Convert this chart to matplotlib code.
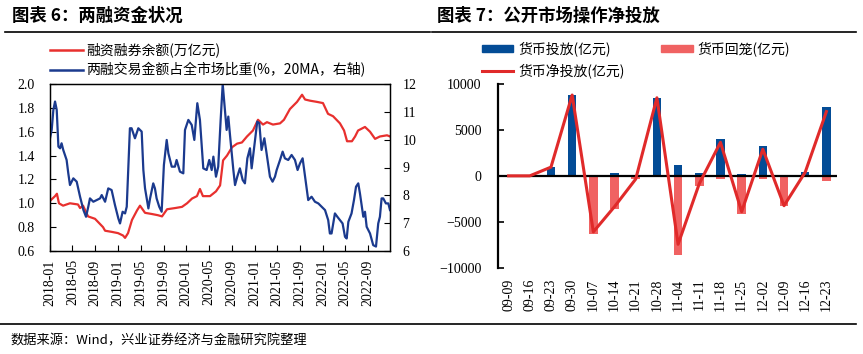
import numpy as np
import pandas as pd
import matplotlib
matplotlib.use("Agg")
import matplotlib.pyplot as plt
from matplotlib.lines import Line2D
from matplotlib.patches import Rectangle

# ---- left chart: margin trading (days since 2018-01-01 -> value)
red_days = [0, 27, 37, 48, 70, 107, 150, 161, 177, 204, 241, 284, 295, 332, 364, 391, 402,
            418, 439, 466, 482, 509, 546, 578, 600, 627, 670, 707, 734, 761, 787, 803, 819,
            857, 889, 911, 927, 948, 975, 1002, 1028, 1055, 1087, 1114, 1141, 1162, 1194,
            1232, 1253, 1285, 1323, 1350, 1366, 1393, 1430, 1462, 1489, 1516, 1553, 1575,
            1591, 1617, 1634, 1650, 1687, 1714, 1741, 1767, 1805, 1821]
red_vals = [1.02, 1.06, 1.08, 1.00, 0.98, 1.00, 0.99, 0.96, 0.98, 0.89, 0.87, 0.80, 0.77,
            0.76, 0.75, 0.73, 0.71, 0.75, 0.86, 0.94, 0.98, 0.92, 0.91, 0.90, 0.89, 0.95,
            0.96, 0.97, 1.00, 1.04, 1.06, 1.12, 1.06, 1.06, 1.10, 1.15, 1.36, 1.40, 1.47,
            1.50, 1.51, 1.56, 1.61, 1.70, 1.66, 1.68, 1.66, 1.67, 1.70, 1.79, 1.85, 1.91,
            1.87, 1.86, 1.85, 1.84, 1.75, 1.73, 1.67, 1.61, 1.52, 1.52, 1.56, 1.61, 1.64,
            1.60, 1.54, 1.56, 1.57, 1.56]

blue_days = [0, 9, 18, 27, 36, 45, 54, 62, 71, 89, 98, 107, 125, 143, 161, 179, 193, 205,
             214, 232, 250, 268, 277, 295, 312, 330, 348, 366, 375, 389, 402, 411, 428, 437,
             455, 473, 491, 500, 509, 527, 536, 553, 562, 571, 585, 598, 610, 625, 634, 652,
             669, 678, 696, 714, 723, 741, 759, 773, 789, 803, 821, 839, 853, 866, 875, 889,
             901, 914, 925, 937, 946, 955, 964, 982, 991, 1003, 1017, 1032, 1044, 1057, 1071,
             1080, 1098, 1110, 1121, 1133, 1148, 1160, 1178, 1192, 1205, 1214, 1232, 1246,
             1258, 1276, 1294, 1312, 1326, 1339, 1353, 1366, 1383, 1401, 1419, 1437, 1455,
             1473, 1490, 1499, 1508, 1517, 1526, 1539, 1553, 1567, 1580, 1589, 1598, 1615,
             1628, 1639, 1651, 1660, 1678, 1687, 1696, 1714, 1731, 1746, 1758, 1767, 1776,
             1785, 1799, 1812, 1821]
blue_vals = [10.05, 10.35, 11.07, 11.37, 11.07, 9.75, 9.69, 9.87, 9.63, 9.27, 8.79, 8.37,
             8.61, 8.49, 7.95, 7.47, 7.23, 7.59, 7.89, 7.77, 7.83, 7.89, 8.01, 7.77, 8.25,
             8.19, 7.65, 7.17, 6.99, 7.41, 7.35, 7.59, 10.41, 10.41, 10.05, 10.41, 10.29,
             8.91, 8.25, 7.53, 7.89, 8.43, 8.25, 7.89, 7.59, 7.41, 9.09, 9.99, 9.51, 9.03,
             9.03, 9.27, 8.85, 8.79, 10.35, 10.71, 10.53, 9.99, 11.31, 10.71, 8.97, 8.91,
             9.27, 8.91, 9.39, 8.67, 9.03, 10.71, 12.0, 11.07, 10.35, 10.83, 10.17, 8.91,
             8.37, 8.67, 8.97, 8.55, 8.43, 9.33, 9.69, 8.97, 9.99, 10.65, 10.59, 9.63, 10.05,
             9.51, 8.67, 8.49, 8.67, 8.91, 9.27, 9.57, 9.33, 9.27, 9.45, 9.27, 8.91, 9.15,
             9.33, 8.67, 7.83, 7.95, 7.77, 7.71, 7.59, 7.47, 7.11, 6.63, 6.63, 6.99, 7.35,
             7.23, 7.11, 6.99, 6.51, 6.45, 7.05, 7.35, 7.83, 8.31, 8.43, 8.07, 7.23, 7.41,
             6.87, 6.63, 6.21, 6.16, 6.99, 7.23, 7.89, 7.89, 7.71, 7.71, 7.47]

date_ticks = ["2018-01", "2018-05", "2018-09", "2019-01", "2019-05", "2019-09", "2020-01",
              "2020-05", "2020-09", "2021-01", "2021-05", "2021-09", "2022-01", "2022-05",
              "2022-09"]

# ---- right chart: open market operations (亿元)
weeks = ["09-09", "09-16", "09-23", "09-30", "10-07", "10-14", "10-21", "10-28",
         "11-04", "11-11", "11-18", "11-25", "12-02", "12-09", "12-16", "12-23"]
injection = [0, 0, 950, 8800, 0, 300, 0, 8500, 1200, 300, 4000, 200, 3250, 0, 400, 7500]
withdrawal = [0, 0, 0, 0, -6300, -3650, -350, 0, -8650, -1150, -350, -4100, -350, -3250, 0, -600]
net_injection = [0, 0, 950, 8800, -6100, -3350, -350, 8500, -7450, -850, 3650, -3900, 2900,
                 -3250, 400, 7000]

W, H = 863, 354
CJK = ["Noto Sans CJK SC", "DejaVu Sans"]
SERIF = "Liberation Serif"


def fx(x):
    return x / W


def fy(y):
    return 1 - y / H


fig = plt.figure(figsize=(W / 100, H / 100), dpi=100)
fig.patch.set_facecolor("white")

# frame lines and titles
for x0, x1, y in [(5, 430, 32), (432, 856, 32), (0, 856, 324)]:
    fig.add_artist(Line2D([fx(x0), fx(x1)], [fy(y), fy(y)], transform=fig.transFigure,
                          color="black", lw=1.2))
fig.text(fx(12), fy(16), "图表 6：两融资金状况", family=CJK, fontsize=12.5,
         fontweight="bold", va="center")
fig.text(fx(437), fy(16), "图表 7：公开市场操作净投放", family=CJK, fontsize=12.5,
         fontweight="bold", va="center")
fig.text(fx(10), fy(341), "数据来源：Wind，兴业证券经济与金融研究院整理", family=CJK,
         fontsize=9.5, va="center")

# ---- left chart
RED = "#E8302E"
NAVY = "#1B3A8E"
base = pd.Timestamp("2018-01-01")
red_x = base + pd.to_timedelta(red_days, unit="D")
blue_x = base + pd.to_timedelta(blue_days, unit="D")

ax = fig.add_axes([fx(50), fy(251), (390 - 50) / W, (251 - 84) / H])
ax2 = ax.twinx()
ax.plot(red_x, red_vals, color=RED, lw=1.6)
ax2.plot(blue_x, blue_vals, color=NAVY, lw=1.6)
ax.set_xlim(base, base + pd.Timedelta(days=1821))
ax.set_ylim(0.6, 2.0)
ax2.set_ylim(6, 12)
ax.set_yticks(np.arange(0.6, 2.01, 0.2))
ax.set_yticklabels([f"{v:.1f}" for v in np.arange(0.6, 2.01, 0.2)])
ax2.set_yticks(range(6, 13))
tick_pos = [pd.Timestamp(t + "-01") for t in date_ticks]
ax.set_xticks(tick_pos)
ax.set_xticklabels(date_ticks, rotation=90)
ax.tick_params(axis="x", direction="in", length=4, pad=6)
ax.tick_params(axis="y", direction="in", length=4, pad=11)
ax2.tick_params(axis="y", direction="in", length=4, pad=9)
for a in (ax, ax2):
    for lab in a.get_xticklabels() + a.get_yticklabels():
        lab.set_family(SERIF)
        lab.set_fontsize(10)
    for s in a.spines.values():
        s.set_linewidth(0.9)

# left legend
for y, c, txt in [(50, RED, "融资融券余额(万亿元)"),
                  (70, NAVY, "两融交易金额占全市场比重(%，20MA，右轴)")]:
    fig.add_artist(Line2D([fx(50), fx(83)], [fy(y), fy(y)], transform=fig.transFigure,
                          color=c, lw=1.8))
    fig.text(fx(86), fy(y), txt, family=CJK, fontsize=10, va="center")

# ---- right chart
BAR_BLUE = "#034C96"
BAR_RED = "#F06262"
LINE_RED = "#E02A2A"
bx = fig.add_axes([fx(498), fy(267.7), (837 - 498) / W, 183.7 / H])
xpos = np.arange(len(weeks))
bx.bar(xpos, injection, width=0.4, color=BAR_BLUE, zorder=2)
bx.bar(xpos, withdrawal, width=0.4, color=BAR_RED, zorder=2)
bx.axhline(0, color="black", lw=1.6, zorder=3)
bx.plot(xpos, net_injection, color=LINE_RED, lw=2.2, zorder=4)
bx.set_xlim(-0.5, len(weeks) - 0.5)
bx.set_ylim(-10000, 10000)
bx.set_yticks([-10000, -5000, 0, 5000, 10000])
bx.set_xticks(xpos)
bx.set_xticklabels(weeks, rotation=90)
bx.tick_params(axis="x", length=0, pad=8)
bx.tick_params(axis="y", direction="in", length=4, pad=12, width=1.2)
for s in ["top", "right", "bottom"]:
    bx.spines[s].set_visible(False)
bx.spines["left"].set_linewidth(1.6)
for lab in bx.get_xticklabels() + bx.get_yticklabels():
    lab.set_family(SERIF)
    lab.set_fontsize(10)

# right legend
fig.add_artist(Rectangle((fx(482), fy(52)), fx(31), 7 / H, transform=fig.transFigure,
                         color=BAR_BLUE))
fig.text(fx(518), fy(49), "货币投放(亿元)", family=CJK, fontsize=10, va="center")
fig.add_artist(Rectangle((fx(661), fy(52)), fx(32), 7 / H, transform=fig.transFigure,
                         color=BAR_RED))
fig.text(fx(697), fy(49), "货币回笼(亿元)", family=CJK, fontsize=10, va="center")
fig.add_artist(Line2D([fx(482), fx(513)], [fy(71), fy(71)], transform=fig.transFigure,
                      color=LINE_RED, lw=2.2))
fig.text(fx(518), fy(71), "货币净投放(亿元)", family=CJK, fontsize=10, va="center")

fig.savefig("out.png", dpi=100)
